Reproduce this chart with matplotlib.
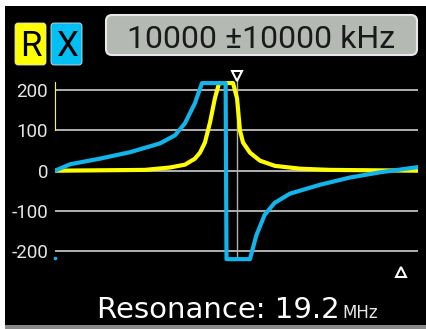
import matplotlib
matplotlib.use('Agg')
import matplotlib.pyplot as plt
from matplotlib.patches import Rectangle, FancyBboxPatch

plt.rcParams['font.family'] = ['Roboto', 'DejaVu Sans']

# frequency in MHz (sweep 0..20 MHz), values in ohms
freq_x = [0, 0.83, 2.48, 4.13, 5.79, 6.61, 7.16, 7.71, 8.10, 9.40, 9.45, 10.74,
          11.10, 11.55, 12.10, 12.95, 14.60, 16.25, 17.91, 20.0]
react_x = [0, 16, 30, 46, 68, 88, 118, 168, 218, 218, -220, -220,
           -160, -110, -80, -57, -35, -17, -4, 9]

freq_r = [0, 4.96, 6.34, 7.16, 7.71, 7.99, 8.26, 8.54, 8.81, 9.04, 9.81, 10.03,
          10.19, 10.36, 10.74, 11.29, 12.12, 13.50, 15.15, 20.0]
res_r = [0, 2, 8, 15, 30, 45, 70, 120, 180, 218, 218, 180,
         100, 70, 45, 25, 12, 5, 2, 0]

grid_vals = [200, 100, 0, -100, -200]
tick_labels = ['200', '100', '0', '-100', '-200']
cursor_f = 10.0
header_text = '10000 \u00b110000 kHz'

W, H = 427, 329
fig = plt.figure(figsize=(W / 100, H / 100), dpi=100)
fig.patch.set_facecolor('white')

# overlay in pixel coordinates for the screen frame and labels
bg = fig.add_axes([0, 0, 1, 1], zorder=0)
bg.set_xlim(0, W)
bg.set_ylim(H, 0)
bg.axis('off')
bg.add_patch(Rectangle((5, 325), 421, 4, color='#8a8a8a', lw=0))
bg.add_patch(Rectangle((5, 6), 421, 319, color='black', lw=0))

bg.add_patch(FancyBboxPatch((15, 23), 31, 42, boxstyle='round,pad=0,rounding_size=3',
                            fc='#ffff00', ec='#dddddd', lw=0.6))
bg.add_patch(FancyBboxPatch((51, 23), 31, 42, boxstyle='round,pad=0,rounding_size=3',
                            fc='#00bff2', ec='#dddddd', lw=0.6))
bg.text(30.5, 55.5, 'R', fontsize=25, color='black', ha='center', va='baseline')
bg.text(66.5, 55.5, 'X', fontsize=25, color='black', ha='center', va='baseline')

bg.add_patch(FancyBboxPatch((106, 15), 311, 40, boxstyle='round,pad=0,rounding_size=6',
                            fc='#b4b9b4', ec='#e8e8e8', lw=1.5))
bg.text(261, 48, header_text, fontsize=23, color='#1a1a1a', ha='center', va='baseline')

bg.text(340, 318, 'Resonance: 19.2', fontsize=21, color='white', ha='right',
        va='baseline', family='DejaVu Sans')
bg.text(342, 318, 'MHz', fontsize=12, color='#e8e8e8', ha='left', va='baseline',
        family='DejaVu Sans')

# chart area
left, right = 55 / W, 418 / W
ymin, ymax = -240, 240
px100 = 40.2
top_px = 170.7 - ymax / 100 * px100
bot_px = 170.7 - ymin / 100 * px100
ax = fig.add_axes([left, (H - bot_px) / H, right - left, (bot_px - top_px) / H], zorder=1)
ax.set_facecolor('none')
ax.set_xlim(0, 20)
ax.set_ylim(ymin, ymax)
for s in ax.spines.values():
    s.set_visible(False)
ax.set_xticks([])
ax.set_yticks(grid_vals)
ax.set_yticklabels(tick_labels)
ax.tick_params(axis='y', length=0, pad=5, labelsize=13.5, labelcolor='#e6e6e6')

for v in grid_vals:
    ax.axhline(v, color='#b0b0b0', lw=1.4, zorder=1)

ax.plot([cursor_f, cursor_f], [-218, 228], color='#b0b0b0', lw=1, zorder=2)

ax.plot(freq_r, res_r, color='#ffff00', lw=3, solid_joinstyle='round', zorder=3)
ax.plot(freq_x, react_x, color='#12b4ea', lw=3, solid_joinstyle='round', zorder=4)

# small artifacts at the left edge
ax.plot([0, 0], [100, 220], color='#ffff00', lw=0.8, clip_on=False, zorder=3)
ax.plot([0], [-218], marker='o', ms=1.6, color='#12b4ea', clip_on=False)

# cursor markers
ax.plot([cursor_f], [236], marker='v', ms=7, mfc='none', mec='white', mew=1.5,
        clip_on=False, linestyle='none')
ax.plot([19.06], [-252], marker='^', ms=7, mfc='none', mec='white', mew=1.5,
        clip_on=False, linestyle='none')

fig.savefig('out.png', dpi=100)
